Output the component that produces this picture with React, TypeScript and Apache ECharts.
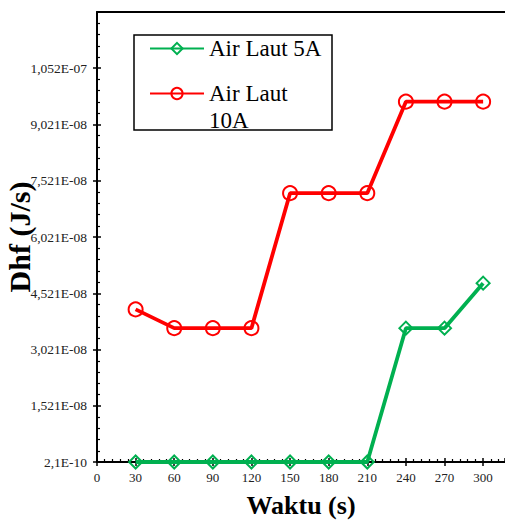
import React, { useEffect, useRef } from "react";
import * as echarts from "echarts";

const times = [30, 60, 90, 120, 150, 180, 210, 240, 270, 300];
const airLaut5A = [2.1e-10, 2.1e-10, 2.1e-10, 2.1e-10, 2.1e-10, 2.1e-10, 2.1e-10, 3.59e-8, 3.59e-8, 4.79e-8];
const airLaut10A = [4.09e-8, 3.59e-8, 3.59e-8, 3.59e-8, 7.19e-8, 7.19e-8, 7.19e-8, 9.63e-8, 9.63e-8, 9.63e-8];
const seriesNames = ["Air Laut 5A", "Air Laut 10A"];
const yMin = 2.1e-10;
const yStep = 1.5e-8;
const yMax = 1.2021e-7;
const xMax = 317;

const FONT = "Liberation Serif";

function fmtY(v: number): string {
  let s = v.toExponential(3);
  let [m, e] = s.split("e");
  if (m.includes(".")) m = m.replace(/0+$/, "").replace(/\.$/, "");
  const sign = e.startsWith("-") ? "-" : "+";
  const d = e.replace(/[-+]/, "").padStart(2, "0");
  return m.replace(".", ",") + "E" + sign + d;
}

export default function App() {
  const ref = useRef<HTMLDivElement>(null);
  useEffect(() => {
    if (!ref.current) return;
    const chart = echarts.init(ref.current, null, { renderer: "svg" });
    const green = "#00B050";
    const red = "#FF0000";
    const legendText = {
      fontFamily: FONT,
      fontSize: 23,
      color: "#000",
      lineHeight: 27,
      rich: { t: { fontFamily: FONT, fontSize: 23, color: "#000", lineHeight: 27 } },
    };
    const baseY = {
      type: "value",
      min: yMin,
      max: yMax,
      interval: yStep,
    };
    const baseX = {
      type: "value",
      min: 0,
      max: xMax,
      interval: 30,
    };
    chart.setOption({
      animation: false,
      textStyle: { fontFamily: FONT },
      grid: { left: 97, top: 12, right: 0, bottom: 63, containLabel: false, outerBoundsMode: "none" },
      legend: [
        {
          data: [seriesNames[0]],
          formatter: (n: string) => "{t|" + n + "}",
          left: 144,
          top: 30,
          itemWidth: 54,
          itemHeight: 14,
          textStyle: legendText,
        },
        {
          data: [seriesNames[1]],
          formatter: () => "{t| }\n{t|Air Laut}\n{t|10A}",
          left: 144,
          top: 48,
          itemWidth: 54,
          itemHeight: 14,
          textStyle: legendText,
        },
      ],
      graphic: [
        {
          type: "rect",
          shape: { x: 134, y: 35, width: 198, height: 95 },
          style: { fill: "none", stroke: "#000", lineWidth: 1.5 },
          z: 10,
        },
      ],
      xAxis: [
        {
          ...baseX,
          position: "bottom",
          name: "Waktu (s)",
          nameLocation: "middle",
          nameGap: 30,
          nameMoveOverlap: false,
          nameTextStyle: { fontFamily: FONT, fontSize: 26, fontWeight: "bold", color: "#000" },
          axisLine: { show: true, onZero: false, lineStyle: { color: "#000", width: 2 } },
          axisTick: { show: true, inside: false, length: 4, lineStyle: { color: "#000", width: 1.5 } },
          minorTick: { show: false },
          axisLabel: {
            fontFamily: FONT,
            fontSize: 13,
            color: "#222",
            margin: 9,
            showMaxLabel: false,
          },
          splitLine: { show: false },
        },
        {
          ...baseX,
          position: "bottom",
          axisLine: { show: false, onZero: false },
          axisTick: { show: true, inside: true, length: 4, lineStyle: { color: "#000", width: 1.5 } },
          minorTick: { show: true, splitNumber: 5, length: 3, lineStyle: { color: "#000", width: 1.2 } },
          axisLabel: { show: false },
          splitLine: { show: false },
        },
        {
          ...baseX,
          position: "top",
          axisLine: { show: true, onZero: false, lineStyle: { color: "#000", width: 2 } },
          axisTick: { show: false },
          axisLabel: { show: false },
          splitLine: { show: false },
        },
      ],
      yAxis: [
        {
          ...baseY,
          position: "left",
          name: "Dhf (J/s)",
          nameLocation: "middle",
          nameGap: 63,
          nameMoveOverlap: false,
          nameRotate: 90,
          nameTextStyle: { fontFamily: FONT, fontSize: 30, fontWeight: "bold", color: "#000" },
          axisLine: { show: true, onZero: false, lineStyle: { color: "#000", width: 2 } },
          axisTick: { show: true, inside: false, length: 4, lineStyle: { color: "#000", width: 1.5 } },
          axisLabel: {
            fontFamily: FONT,
            fontSize: 13.5,
            color: "#222",
            margin: 10,
            showMaxLabel: false,
            formatter: (v: number) => fmtY(v),
          },
          splitLine: { show: false },
        },
        {
          ...baseY,
          position: "left",
          axisLine: { show: false, onZero: false },
          axisTick: { show: true, inside: true, length: 4, lineStyle: { color: "#000", width: 1.5 } },
          minorTick: { show: true, splitNumber: 5, length: 3, lineStyle: { color: "#000", width: 1.2 } },
          axisLabel: { show: false },
          splitLine: { show: false },
        },
      ],
      series: [
        {
          name: seriesNames[0],
          type: "line",
          xAxisIndex: 0,
          yAxisIndex: 0,
          data: times.map((t, i) => [t, airLaut5A[i]]),
          color: green,
          symbol: "diamond",
          symbolSize: 13,
          lineStyle: { color: green, width: 3.8 },
          itemStyle: { color: "rgba(255,255,255,0)", borderColor: green, borderWidth: 2 },
          z: 3,
        },
        {
          name: seriesNames[1],
          type: "line",
          xAxisIndex: 0,
          yAxisIndex: 0,
          data: times.map((t, i) => [t, airLaut10A[i]]),
          color: red,
          symbol: "circle",
          symbolSize: 14,
          lineStyle: { color: red, width: 3.8 },
          itemStyle: { color: "rgba(255,255,255,0)", borderColor: red, borderWidth: 2 },
          z: 3,
        },
      ],
    });
    return () => chart.dispose();
  }, []);
  return <div ref={ref} style={{ width: 505, height: 525, position: "absolute", left: 0, top: 0 }} />;
}
